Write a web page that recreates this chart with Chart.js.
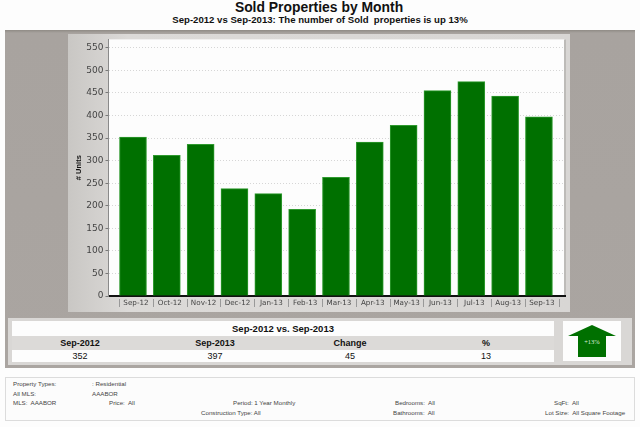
<!DOCTYPE html>
<html>
<head>
<meta charset="utf-8">
<script src="https://cdn.jsdelivr.net/npm/chart.js@4"></script>
<style>
  html, body { margin: 0; padding: 0; background: #fdfdfd; }
  body { width: 640px; height: 427px; position: relative; overflow: hidden; font-family: "Liberation Sans", Arial, sans-serif; color: #111; }
  .abs { position: absolute; }
  .c { position: absolute; text-align: center; transform: translateX(-50%); white-space: nowrap; }
  #title { left: 319px; top: -1px; font-size: 13.9px; font-weight: bold; }
  #subtitle { left: 320px; top: 14px; font-size: 9.6px; font-weight: bold; }
  #outer { left: 5px; top: 30px; width: 630px; height: 338px; background: linear-gradient(#8f8b85, #a8a39f 3px, #aaa5a1); }
  #inner { left: 68px; top: 34px; width: 502px; height: 278px; background: linear-gradient(90deg, #c9c7c4, #dcdad8 12%, #d8d6d4); }
  canvas { position: absolute; left: 68px; top: 32px; }
  #tablePanel { left: 8px; top: 318px; width: 624px; height: 47px; background: #d9d7d5; }
  .row { position: absolute; left: 12px; width: 542px; }
  #rowTitle { top: 321px; height: 15px; background: #fdfdfd; }
  #rowHead { top: 336px; height: 14px; background: #dcdad8; }
  #rowVal { top: 350px; height: 12px; background: #fdfdfd; }
  .t { font-size: 9px; }
  .b { font-weight: bold; }
  #arrowBox { left: 563px; top: 321px; width: 58px; height: 40px; background: #fdfdfd; }
  #arrowBox svg { display: block; }
  #info { left: 5px; top: 377px; width: 628px; height: 42px; border: 1px solid #dcdcdc; background: #fcfcfc; }
  .i { position: absolute; font-size: 6.2px; color: #444; white-space: nowrap; }
</style>
</head>
<body>
<div id="title" class="c">Sold Properties by Month</div>
<div id="subtitle" class="c">Sep-2012 vs Sep-2013: The number of Sold&nbsp; properties is up 13%</div>
<div id="outer" class="abs"></div>
<div id="inner" class="abs"></div>
<canvas id="soldChart" width="502" height="280"></canvas>

<div id="tablePanel" class="abs"></div>
<div id="rowTitle" class="row"></div>
<div id="rowHead" class="row"></div>
<div id="rowVal" class="row"></div>
<div class="c b" style="left:283px;top:323px;font-size:9.5px">Sep-2012 vs. Sep-2013</div>
<div id="summary"></div>
<div id="arrowBox" class="abs">
  <svg width="58" height="40" viewBox="0 0 58 40">
    <polygon points="5,15 29,4 53,15 43,15 43,36 15,36 15,15" fill="#007000"/>
    <text x="29" y="23" font-size="6.5" fill="#dfeedd" text-anchor="middle" font-family="Liberation Serif">+13%</text>
  </svg>
</div>

<div id="info" class="abs"></div>
<div class="i" style="left:13px;top:380px">Property Types:</div>
<div class="i" style="left:92px;top:380px">: Residential</div>
<div class="i" style="left:13px;top:390px">All MLS:</div>
<div class="i" style="left:92px;top:390px">AAABOR</div>
<div class="i" style="left:13px;top:399px">MLS:&nbsp; AAABOR</div>
<div class="i" style="left:109px;top:399px">Price:&nbsp; All</div>
<div class="i" style="left:233px;top:399px">Period: 1 Year Monthly</div>
<div class="i" style="left:201px;top:409px">Construction Type: All</div>
<div class="i" style="left:395px;top:399px">Bedrooms:&nbsp; All</div>
<div class="i" style="left:393px;top:409px">Bathrooms:&nbsp; All</div>
<div class="i" style="left:554px;top:399px">SqFt:&nbsp; All</div>
<div class="i" style="left:545px;top:409px">Lot Size:&nbsp; All Square Footage</div>

<script>
const months = ["Sep-12", "Oct-12", "Nov-12", "Dec-12", "Jan-13", "Feb-13", "Mar-13", "Apr-13", "May-13", "Jun-13", "Jul-13", "Aug-13", "Sep-13"];
const soldUnits = [352, 312, 336, 238, 227, 192, 263, 341, 378, 455, 475, 443, 397];
const yTicks = [0, 50, 100, 150, 200, 250, 300, 350, 400, 450, 500, 550];
const summaryHeads = ["Sep-2012", "Sep-2013", "Change", "%"];
const summaryVals = ["352", "397", "45", "13"];
const summaryX = [80, 215, 350, 486];

/* ================= SUMMARY TABLE ================= */
const summary = document.getElementById("summary");
summaryHeads.forEach((h, i) => {
  summary.insertAdjacentHTML("beforeend",
    `<div class="c t b" style="left:${summaryX[i]}px;top:338px">${h}</div>` +
    `<div class="c t" style="left:${summaryX[i]}px;top:351px">${summaryVals[i]}</div>`);
});

/* ================= PLOT BACKGROUND AND SEPARATORS ================= */
const decorations = {
  id: "decorations",
  beforeDraw(chart) {
    const { ctx, chartArea: a } = chart;
    ctx.save();
    ctx.fillStyle = "#fdfdfd";
    ctx.fillRect(a.left, a.top, a.width, a.height);
    ctx.strokeStyle = "#bdbbb8";
    ctx.lineWidth = 2;
    ctx.beginPath();
    ctx.moveTo(a.right, a.top);
    ctx.lineTo(a.right, a.bottom);
    ctx.stroke();
    ctx.restore();
  },
  afterDraw(chart) {
    const { ctx, chartArea: a, scales } = chart;
    ctx.save();
    ctx.strokeStyle = "#8a8a8a";
    ctx.lineWidth = 1;
    ctx.beginPath();
    ctx.moveTo(a.left, a.top);
    ctx.lineTo(a.left, a.bottom);
    ctx.stroke();
    ctx.strokeStyle = "#999";
    for (let i = 0; i <= months.length; i++) {
      const x = Math.round(scales.x.getPixelForValue(i - 0.414)) + 0.5;
      ctx.beginPath();
      ctx.moveTo(x, a.bottom + 3);
      ctx.lineTo(x, a.bottom + 11);
      ctx.stroke();
    }
    ctx.restore();
  }
};

/* ================= SOLD CHART ================= */
new Chart(document.getElementById("soldChart"), {
  type: "bar",
  data: {
    datasets: [{
      data: soldUnits.map((v, i) => ({ x: i, y: v })),
      backgroundColor: "#007000",
      borderColor: "#2f9a2f",
      borderWidth: 1,
      barThickness: 27
    }]
  },
  options: {
    responsive: false,
    animation: false,
    layout: { padding: { left: 0, top: 5.5, right: 5, bottom: 0 } },
    plugins: { legend: { display: false }, tooltip: { enabled: false } },
    scales: {
      x: {
        type: "linear",
        offset: false,
        min: -0.724,
        max: 12.77,
        afterBuildTicks: s => { s.ticks = months.map((m, i) => ({ value: i })); },
        afterFit: s => { s.height = 16; },
        grid: { display: false, drawTicks: false },
        border: { color: "#111", width: 2 },
        ticks: {
          callback: v => months[v],
          autoSkip: false,
          maxRotation: 0,
          padding: 3,
          labelOffset: 3,
          color: "#444",
          font: { family: "DejaVu Sans", size: 7.2 }
        }
      },
      y: {
        min: 0,
        max: 568.7,
        afterBuildTicks: s => { s.ticks = yTicks.map(v => ({ value: v })); },
        afterFit: s => { s.width = 40.5; },
        title: {
          display: true,
          text: "# Units",
          color: "#111",
          padding: { top: 6, bottom: 0 },
          font: { family: "Liberation Sans", size: 7.5, weight: "bold" }
        },
        grid: { color: "#d6d6d6", tickColor: "#777", tickLength: 3, tickBorderDash: [], lineWidth: 1 },
        border: { color: "#8a8a8a", width: 1, dash: [1, 2] },
        ticks: {
          padding: 2,
          color: "#444",
          font: { family: "DejaVu Sans", size: 9 }
        }
      }
    }
  },
  plugins: [decorations]
});
</script>
</body>
</html>
